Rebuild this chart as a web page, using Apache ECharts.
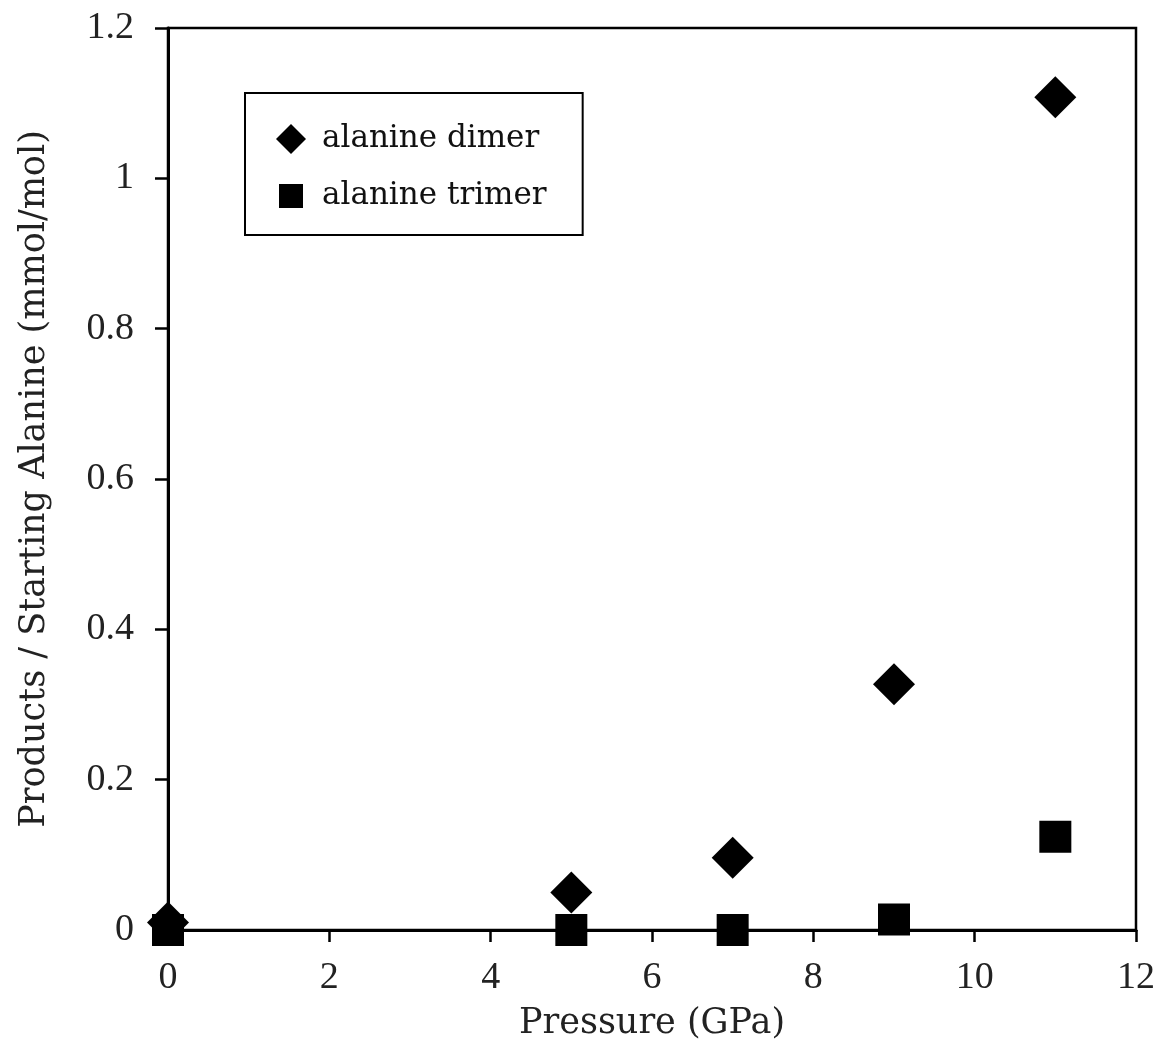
<!DOCTYPE html>
<html>
<head>
<meta charset="utf-8">
<title>Alanine products vs pressure</title>
<script src="https://cdn.jsdelivr.net/npm/echarts@6/dist/echarts.min.js"></script>
<style>
  html, body { margin: 0; padding: 0; background: #fff; }
  #main { width: 1162px; height: 1045px; }
</style>
</head>
<body>
<div id="main"></div>
<script>
// pressure (GPa) of each run
var pressure = [0, 5, 7, 9, 11];
// products / starting alanine (mmol/mol)
var dimerVals = [0.01, 0.05, 0.096, 0.327, 1.108];
var trimerVals = [0, 0, 0, 0.014, 0.124];
var seriesNames = ['alanine dimer', 'alanine trimer'];

function pairs(xs, ys) {
    var out = [];
    for (var i = 0; i < xs.length; i++) {
        out.push([xs[i], ys[i]]);
    }
    return out;
}

var serif = 'DejaVu Serif, serif';
var tickFont = 'Liberation Serif, Times New Roman, serif';

var myChart = echarts.init(document.getElementById('main'));
var option = {
    backgroundColor: '#fff',
    animation: false,
    grid: {
        left: 168,
        right: 26,
        top: 28,
        bottom: 115,
        outerBoundsMode: 'none', // keep the plot box fixed, don't shrink for labels
        show: true,
        borderColor: '#000',
        borderWidth: 2.5,
        backgroundColor: 'transparent'
    },
    legend: {
        orient: 'vertical',
        left: 245,
        top: 93,
        padding: [30, 36, 23, 30],
        itemGap: 25,
        itemWidth: 32,
        itemHeight: 32,
        borderColor: '#000',
        borderWidth: 2,
        backgroundColor: '#fff',
        textStyle: {
            fontFamily: serif,
            fontSize: 31,
            color: '#111',
            padding: [0, 0, 0, 10]
        },
        data: [
            // icons drawn a little inside the 32px box, like the reference key
            { name: seriesNames[0], icon: 'path://M0,0M32,32M16,1L31,16L16,31L1,16Z' },
            { name: seriesNames[1], icon: 'path://M0,0M32,32M4,4H28V28H4Z' }
        ]
    },
    xAxis: {
        type: 'value',
        min: 0,
        max: 12,
        interval: 2,
        name: 'Pressure (GPa)',
        nameLocation: 'middle',
        nameGap: 76,
        nameTextStyle: { fontFamily: serif, fontSize: 35, color: '#222' },
        axisLine: { lineStyle: { color: '#000', width: 3 } },
        axisTick: { show: true, inside: false, length: 12, lineStyle: { color: '#000', width: 2.5 } },
        axisLabel: { margin: 29, fontFamily: tickFont, fontSize: 38, color: '#222' },
        splitLine: { show: false }
    },
    yAxis: {
        type: 'value',
        min: 0,
        max: 1.2,
        interval: 0.2,
        name: 'Products / Starting Alanine (mmol/mol)',
        nameLocation: 'middle',
        nameGap: 116,
        nameTextStyle: { fontFamily: serif, fontSize: 35, color: '#222' },
        axisLine: { lineStyle: { color: '#000', width: 3 } },
        axisTick: { show: true, inside: false, length: 13, lineStyle: { color: '#000', width: 2.5 } },
        axisLabel: { margin: 34, fontFamily: tickFont, fontSize: 38, color: '#222' },
        splitLine: { show: false }
    },
    series: [
        {
            name: seriesNames[0],
            type: 'scatter',
            symbol: 'diamond',
            symbolSize: [42, 42],
            itemStyle: { color: '#000', opacity: 1 },
            z: 3,
            data: pairs(pressure, dimerVals)
        },
        {
            name: seriesNames[1],
            type: 'scatter',
            symbol: 'rect',
            symbolSize: [32, 32],
            itemStyle: { color: '#000', opacity: 1 },
            z: 4,
            data: pairs(pressure, trimerVals)
        }
    ]
};
myChart.setOption(option);
</script>
</body>
</html>
